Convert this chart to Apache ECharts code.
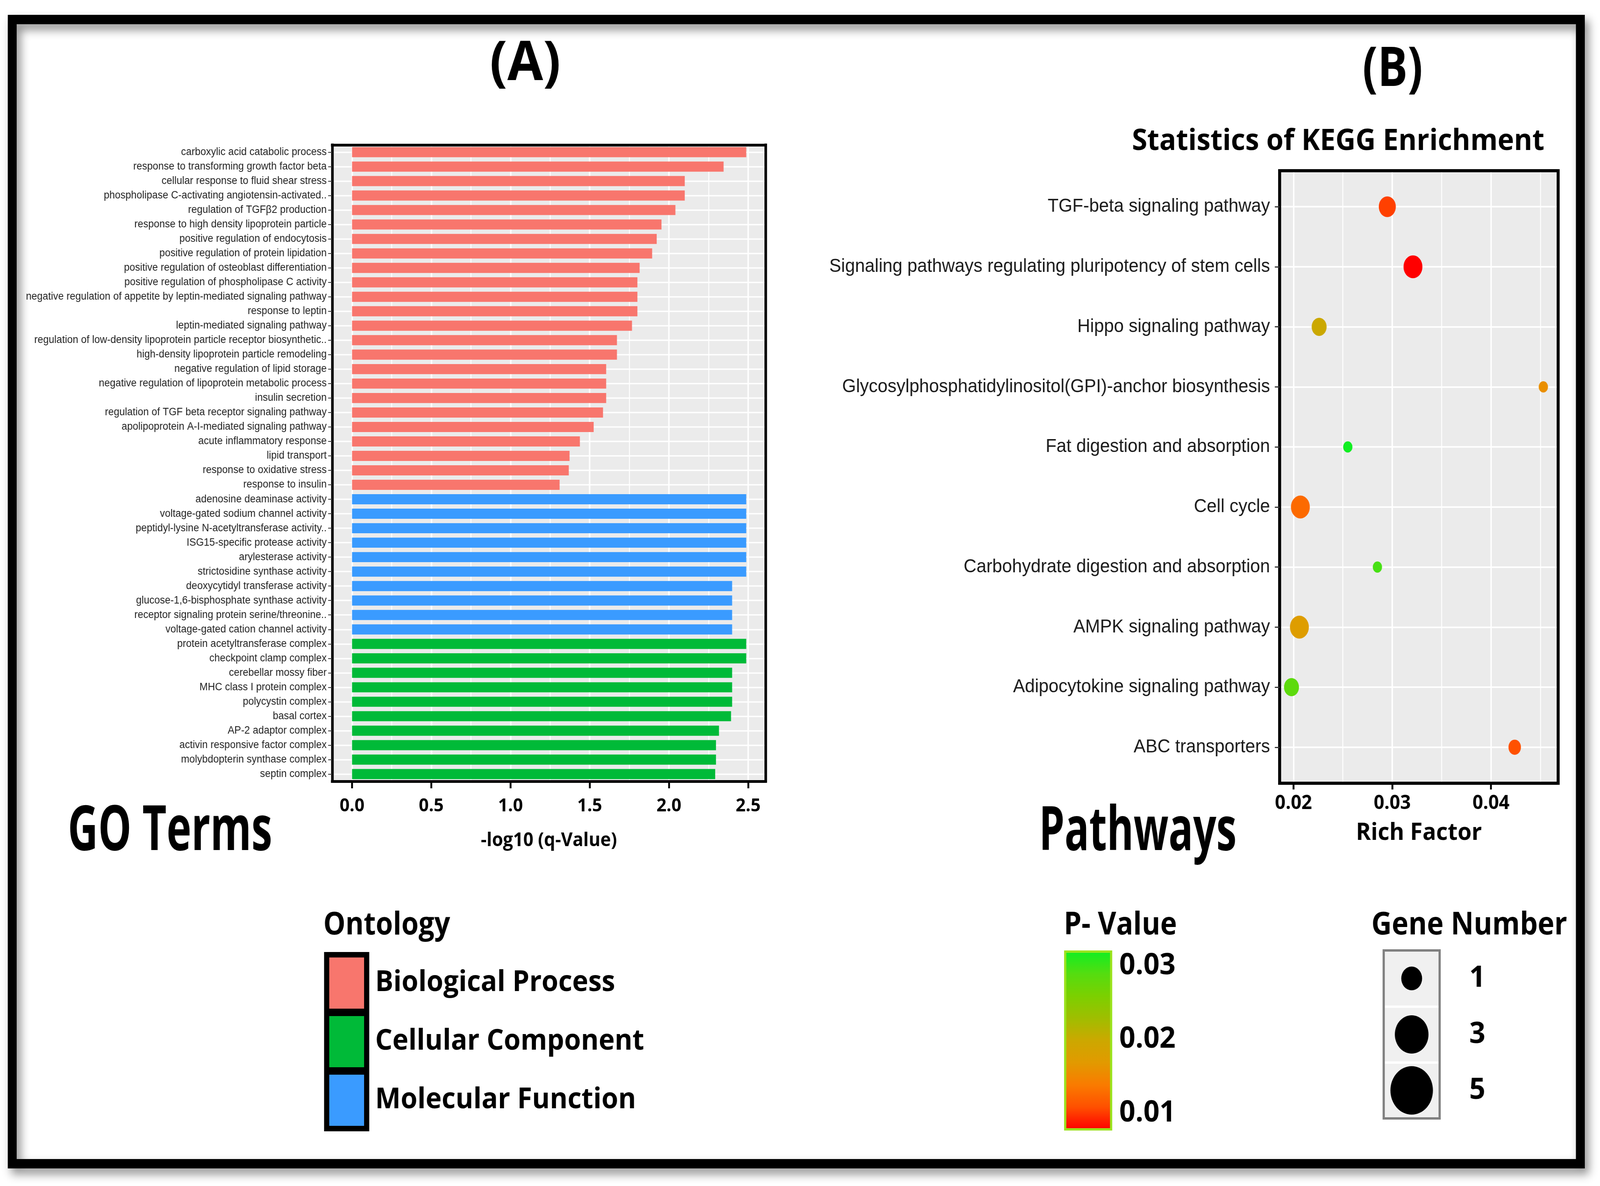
<!DOCTYPE html>
<html>
<head>
<meta charset="utf-8">
<script src="https://cdn.jsdelivr.net/npm/echarts@6/dist/echarts.min.js"></script>
<style>html,body{margin:0;padding:0;background:#fff;overflow:hidden}#c{width:4320px;height:3036px;transform-origin:0 0}</style>
</head>
<body>
<div id="c"></div>
<script>
// ---------------- DATA ----------------
const bpTerms = [
  'carboxylic acid catabolic process',
  'response to transforming growth factor beta',
  'cellular response to fluid shear stress',
  'phospholipase C-activating angiotensin-activated..',
  'regulation of TGFβ2 production',
  'response to high density lipoprotein particle',
  'positive regulation of endocytosis',
  'positive regulation of protein lipidation',
  'positive regulation of osteoblast differentiation',
  'positive regulation of phospholipase C activity',
  'negative regulation of appetite by leptin-mediated signaling pathway',
  'response to leptin',
  'leptin-mediated signaling pathway',
  'regulation of low-density lipoprotein particle receptor biosynthetic..',
  'high-density lipoprotein particle remodeling',
  'negative regulation of lipid storage',
  'negative regulation of lipoprotein metabolic process',
  'insulin secretion',
  'regulation of TGF beta receptor signaling pathway',
  'apolipoprotein A-I-mediated signaling pathway',
  'acute inflammatory response',
  'lipid transport',
  'response to oxidative stress',
  'response to insulin'
];
const bpValues = [2.488, 2.345, 2.100, 2.100, 2.041, 1.953, 1.923, 1.894, 1.815, 1.801, 1.801, 1.801,
                  1.767, 1.672, 1.672, 1.604, 1.604, 1.604, 1.584, 1.525, 1.438, 1.373, 1.368, 1.310];
const mfTerms = [
  'adenosine deaminase activity',
  'voltage-gated sodium channel activity',
  'peptidyl-lysine N-acetyltransferase activity..',
  'ISG15-specific protease activity',
  'arylesterase activity',
  'strictosidine synthase activity',
  'deoxycytidyl transferase activity',
  'glucose-1,6-bisphosphate synthase activity',
  'receptor signaling protein serine/threonine..',
  'voltage-gated cation channel activity'
];
const mfValues = [2.488, 2.488, 2.488, 2.488, 2.488, 2.488, 2.399, 2.399, 2.399, 2.399];
const ccTerms = [
  'protein acetyltransferase complex',
  'checkpoint clamp complex',
  'cerebellar mossy fiber',
  'MHC class I protein complex',
  'polycystin complex',
  'basal cortex',
  'AP-2 adaptor complex',
  'activin responsive factor complex',
  'molybdopterin synthase complex',
  'septin complex'
];
const ccValues = [2.488, 2.488, 2.399, 2.399, 2.399, 2.392, 2.316, 2.297, 2.297, 2.292];
const goTicks = [0, 0.5, 1.0, 1.5, 2.0, 2.5];
const ontologyNames = ['Biological Process', 'Cellular Component', 'Molecular Function'];

const pathways = [
  'TGF-beta signaling pathway',
  'Signaling pathways regulating pluripotency of stem cells',
  'Hippo signaling pathway',
  'Glycosylphosphatidylinositol(GPI)-anchor biosynthesis',
  'Fat digestion and absorption',
  'Cell cycle',
  'Carbohydrate digestion and absorption',
  'AMPK signaling pathway',
  'Adipocytokine signaling pathway',
  'ABC transporters'
];
const richFactor = [0.0295, 0.0321, 0.0226, 0.0453, 0.0255, 0.0207, 0.0285, 0.0206, 0.0198, 0.0424];
const pValue     = [0.0102, 0.0078, 0.0199, 0.0158, 0.0319, 0.0126, 0.0295, 0.0174, 0.0283, 0.0109];
const geneNumber = [4, 5, 3, 1, 1, 5, 1, 5, 3, 2];
const richTicks = [0.02, 0.03, 0.04];
const pTicks = [0.01, 0.02, 0.03];
const geneLegend = [1, 3, 5];

// ---------------- STYLE ----------------
const BP_COLOR = '#F8766D', CC_COLOR = '#00BA38', MF_COLOR = '#3A9BFF';
const PANEL_BG = '#EBEBEB';
const BOLD = 'Open Sans';
const PLAIN = 'Liberation Sans';
// low p (red) -> high p (green)
const pColors = ['#FF0000', '#FF5000', '#FA7B00', '#E29A00', '#CCA800', '#A0BE00', '#7CD000', '#55DD10', '#11EE22'];

// fit the 4320x3036 design to the viewport we get
const box = document.getElementById('c');
const vw = window.innerWidth || 4320, vh = window.innerHeight || 3036;
const sx = vw / 4320, sy = vh / 3036;
if (Math.abs(sx - 1) > 0.002 || Math.abs(sy - 1) > 0.002) {
  box.style.transform = 'scale(' + sx + ',' + sy + ')';
}

const goTerms = bpTerms.concat(mfTerms, ccTerms);
const nBP = bpTerms.length, nMF = mfTerms.length;
const bpData = goTerms.map((t, i) => i < nBP ? bpValues[i] : null);
const mfData = goTerms.map((t, i) => (i >= nBP && i < nBP + nMF) ? mfValues[i - nBP] : null);
const ccData = goTerms.map((t, i) => i >= nBP + nMF ? ccValues[i - nBP - nMF] : null);

const pMin = Math.min.apply(null, pValue), pMax = Math.max.apply(null, pValue);

function dotSize(n) { return 25 + 26 * (Math.sqrt(n) - 1) / (Math.sqrt(5) - 1); }

function borderAxis(gridIndex, position, color, width, extra) {
  return Object.assign({
    type: 'value', gridIndex: gridIndex, position: position, min: 0, max: 1, z: 10,
    axisLine: { show: true, onZero: false, lineStyle: { color: color, width: width, cap: 'square' } },
    axisTick: { show: false }, axisLabel: { show: false }, splitLine: { show: false }
  }, extra || {});
}

const goMinor = goTicks.slice(1).map((v, i) => (v + goTicks[i]) / 2);
const goGridLines = goTicks.map(v => ({ xAxis: v, lineStyle: { color: '#fff', width: 4, type: 'solid' } }))
  .concat(goMinor.map(v => ({ xAxis: v, lineStyle: { color: '#fff', width: 2.5, type: 'solid' } })))
  .concat(goTerms.map((t, i) => ({ yAxis: i, lineStyle: { color: '#fff', width: 3.5, type: 'solid' } })));
const richMinor = richTicks.map(v => v + 0.005);
const keggGridLines = richTicks.map(v => ({ xAxis: v, lineStyle: { color: '#fff', width: 4, type: 'solid' } }))
  .concat(richMinor.map(v => ({ xAxis: v, lineStyle: { color: '#fff', width: 2.5, type: 'solid' } })))
  .concat(pathways.map((p, i) => ({ yAxis: i, lineStyle: { color: '#fff', width: 4, type: 'solid' } })));

const markLineBase = { silent: true, symbol: ['none', 'none'], label: { show: false }, z: 1, precision: 6,
  animation: false, emphasis: { disabled: true } };

const chart = echarts.init(box, null, { renderer: 'canvas', width: 4320, height: 3036 });

function txt(x, y, text, size, opts) {
  opts = opts || {};
  const align = opts.align || 'center';
  const el = { type: 'text', x: x, y: y, z: 100, silent: true,
    style: { text: text, fontSize: size, fontWeight: 'bold', fontFamily: BOLD, fill: '#000',
      align: align, textAlign: align, verticalAlign: 'middle', textVerticalAlign: 'middle' } };
  if (opts.scaleX) el.scaleX = opts.scaleX;
  if (opts.scaleY) el.scaleY = opts.scaleY;
  return el;
}

const option = {
  animation: false,
  backgroundColor: '#ffffff',
  textStyle: { fontFamily: PLAIN },
  grid: [
    { left: 897, top: 371, width: 1170, height: 1629, show: true, backgroundColor: PANEL_BG, borderWidth: 0, containLabel: false, outerBoundsMode: 'none' },
    { left: 3455, top: 437, width: 752, height: 1568, show: true, backgroundColor: PANEL_BG, borderWidth: 0, containLabel: false, outerBoundsMode: 'none' },
    { left: 2876, top: 2436, width: 124, height: 455, show: false, containLabel: false, outerBoundsMode: 'none' },
    { left: 3736, top: 2433, width: 151, height: 430, show: true, backgroundColor: '#F0F0F0', borderWidth: 0, containLabel: false, outerBoundsMode: 'none' }
  ],
  xAxis: [
    {
      type: 'value', gridIndex: 0, position: 'bottom', min: -0.125, max: 2.61, z: 10,
      axisLine: { show: true, onZero: false, lineStyle: { color: '#000', width: 7, cap: 'square' } },
      axisTick: { show: true, customValues: goTicks, length: 18, lineStyle: { color: '#000', width: 5 } },
      axisLabel: { show: true, customValues: goTicks, margin: 40, formatter: v => v.toFixed(1),
        fontFamily: BOLD, fontWeight: 'bold', fontSize: 47, color: '#000' },
      splitLine: { show: false },
      name: '-log10 (q-Value)', nameLocation: 'middle', nameGap: 128,
      nameTextStyle: { fontFamily: BOLD, fontWeight: 'bold', fontSize: 48, color: '#000' }
    },
    borderAxis(0, 'top', '#000', 7),
    {
      type: 'value', gridIndex: 1, position: 'bottom', min: 0.0186, max: 0.0468, z: 10,
      axisLine: { show: true, onZero: false, lineStyle: { color: '#000', width: 8, cap: 'square' } },
      axisTick: { show: true, customValues: richTicks, length: 16, lineStyle: { color: '#000', width: 5 } },
      axisLabel: { show: true, customValues: richTicks, margin: 27, formatter: v => v.toFixed(2),
        fontFamily: BOLD, fontWeight: 'bold', fontSize: 50, color: '#000' },
      splitLine: { show: false },
      name: 'Rich Factor', nameLocation: 'middle', nameGap: 97,
      nameTextStyle: { fontFamily: BOLD, fontWeight: 'bold', fontSize: 61, color: '#000' }
    },
    borderAxis(1, 'top', '#000', 8),
    borderAxis(2, 'bottom', '#9BE31E', 6),
    borderAxis(2, 'top', '#9BE31E', 6),
    borderAxis(3, 'bottom', '#808080', 6, { type: 'category', data: [''], min: null, max: null }),
    borderAxis(3, 'top', '#808080', 6)
  ],
  yAxis: [
    {
      type: 'category', gridIndex: 0, position: 'left', data: goTerms, inverse: true, z: 10,
      axisLine: { show: true, onZero: false, lineStyle: { color: '#000', width: 7, cap: 'square' } },
      axisTick: { show: true, interval: 0, alignWithLabel: true, length: 11, lineStyle: { color: '#333', width: 2 } },
      axisLabel: { show: true, interval: 0, margin: 15, fontFamily: PLAIN, fontSize: 27, color: '#222' },
      splitLine: { show: false }
    },
    borderAxis(0, 'right', '#000', 7),
    {
      type: 'value', gridIndex: 1, position: 'left', min: -0.6, max: 9.6, inverse: true, z: 10,
      axisLine: { show: true, onZero: false, lineStyle: { color: '#000', width: 8, cap: 'square' } },
      axisTick: { show: true, customValues: pathways.map((p, i) => i), length: 13, lineStyle: { color: '#333', width: 3 } },
      axisLabel: { show: true, customValues: pathways.map((p, i) => i), margin: 26,
        formatter: v => pathways[Math.round(v)] || '', fontFamily: PLAIN, fontSize: 48, color: '#1a1a1a' },
      splitLine: { show: false }
    },
    borderAxis(1, 'right', '#000', 8),
    {
      type: 'value', gridIndex: 2, position: 'right', min: pMin, max: pMax, z: 10,
      axisLine: { show: true, onZero: false, lineStyle: { color: '#9BE31E', width: 6, cap: 'square' } },
      axisTick: { show: false, customValues: pTicks },
      axisLabel: { show: true, customValues: pTicks, margin: 22, formatter: v => v.toFixed(2),
        fontFamily: BOLD, fontWeight: 'bold', fontSize: 76, color: '#000' },
      splitLine: { show: false }
    },
    borderAxis(2, 'left', '#9BE31E', 6),
    {
      type: 'category', gridIndex: 3, position: 'right', data: geneLegend.map(String), inverse: true, z: 0,
      axisLine: { show: false, onZero: false },
      axisTick: { show: false },
      axisLabel: { show: true, interval: 0, margin: 80, fontFamily: BOLD, fontWeight: 'bold', fontSize: 76, color: '#000' },
      splitLine: { show: true, interval: 0, lineStyle: { color: '#ffffff', width: 6 } }
    },
    borderAxis(3, 'left', '#808080', 6),
    borderAxis(3, 'right', '#808080', 6)
  ],
  legend: {
    show: true, orient: 'vertical', left: 875, top: 2437, padding: 0,
    data: ontologyNames, icon: 'rect', itemWidth: 108, itemHeight: 145, itemGap: -9,
    selectedMode: false,
    itemStyle: { borderColor: '#000', borderWidth: 14 },
    textStyle: { fontFamily: BOLD, fontWeight: 'bold', fontSize: 73, color: '#000', padding: [0, 0, 0, 18] }
  },
  visualMap: {
    type: 'continuous', show: false, seriesIndex: 3, dimension: 2, min: pMin, max: pMax,
    inRange: { color: pColors }
  },
  series: [
    { name: 'Biological Process', type: 'bar', xAxisIndex: 0, yAxisIndex: 0, data: bpData,
      barWidth: '70%', barGap: '-100%', itemStyle: { color: BP_COLOR }, z: 2,
      markLine: Object.assign({ data: goGridLines }, markLineBase) },
    { name: 'Molecular Function', type: 'bar', xAxisIndex: 0, yAxisIndex: 0, data: mfData,
      barWidth: '70%', barGap: '-100%', itemStyle: { color: MF_COLOR }, z: 2 },
    { name: 'Cellular Component', type: 'bar', xAxisIndex: 0, yAxisIndex: 0, data: ccData,
      barWidth: '70%', barGap: '-100%', itemStyle: { color: CC_COLOR }, z: 2 },
    { name: 'KEGG', type: 'scatter', xAxisIndex: 2, yAxisIndex: 2, z: 3,
      data: pathways.map((p, i) => [richFactor[i], i, pValue[i], geneNumber[i]]),
      symbol: 'circle',
      symbolSize: v => [dotSize(v[3]), dotSize(v[3]) * 1.15],
      itemStyle: { opacity: 1 },
      markLine: Object.assign({ data: keggGridLines }, markLineBase) },
    { name: 'P colourbar', type: 'scatter', xAxisIndex: 4, yAxisIndex: 4, data: [[0.5, pMin]],
      symbolSize: 0, silent: true,
      markArea: { silent: true, z: 1,
        itemStyle: { color: new echarts.graphic.LinearGradient(0, 0, 0, 1,
          pColors.slice().reverse().map((c, i, a) => ({ offset: i / (a.length - 1), color: c }))) },
        data: [[{ yAxis: pMin }, { yAxis: pMax }]] } },
    { name: 'Gene Number', type: 'scatter', xAxisIndex: 6, yAxisIndex: 6, z: 3,
      data: geneLegend.map(g => [0, String(g), g]),
      symbol: 'circle',
      symbolSize: v => [dotSize(v[2]) * 2.25, dotSize(v[2]) * 2.25 * 1.08],
      itemStyle: { color: '#000', opacity: 1 }, silent: true }
  ],
  graphic: [
    { type: 'rect', shape: { x: 33, y: 50, width: 4234, height: 2929 },
      style: { fill: 'none', stroke: '#000', lineWidth: 24, shadowBlur: 24, shadowColor: 'rgba(0,0,0,0.45)',
               shadowOffsetX: 10, shadowOffsetY: 14 }, z: 100, silent: true },
    txt(1418, 165, '(A)', 140),
    txt(3760, 180, '(B)', 140, { scaleX: 0.86 }),
    txt(3613, 363, 'Statistics of KEGG Enrichment', 75),
    txt(459, 2130, 'GO Terms', 113, { scaleY: 1.42 }),
    txt(3072, 2132, 'Pathways', 110, { scaleY: 1.42 }),
    txt(873, 2369, 'Ontology', 75, { align: 'left', scaleY: 1.08 }),
    txt(3025, 2369, 'P- Value', 76, { scaleY: 1.05 }),
    txt(3967, 2369, 'Gene Number', 76, { scaleY: 1.05 })
  ]
};
chart.setOption(option);
</script>
</body>
</html>
